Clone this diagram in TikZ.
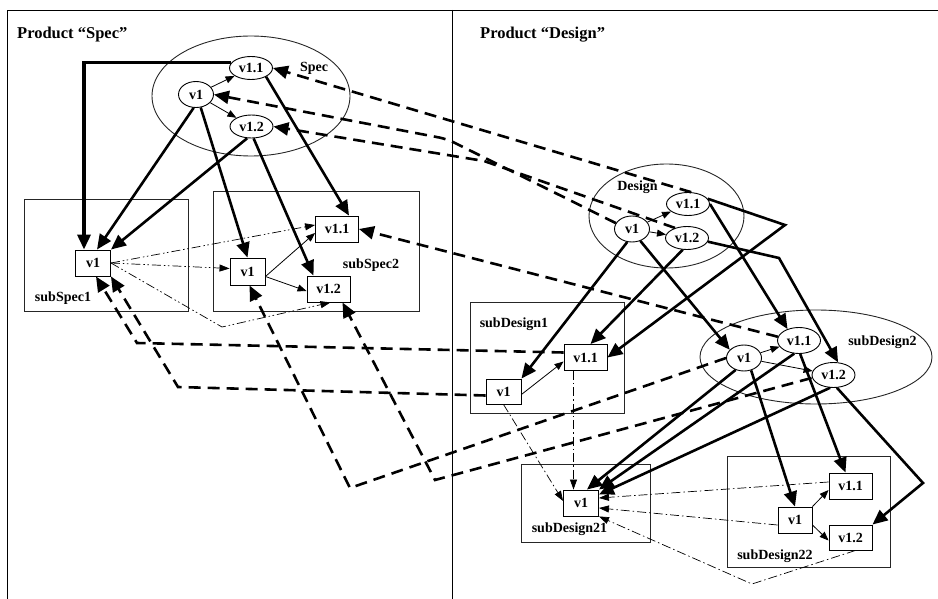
\documentclass[tikz,border=0pt]{standalone}
\usepackage{fontspec}
\setmainfont{Liberation Serif}
\usetikzlibrary{arrows.meta, shapes.geometric}

\begin{document}
\begin{tikzpicture}[x=1pt, y=-1pt,
    every node/.style={font=\bfseries\fontsize{14}{16}\selectfont},
    prodtitle/.style={font=\bfseries\fontsize{16.5}{18}\selectfont, anchor=west, inner sep=0pt},
    grp/.style={draw=black!85, line width=0.9pt, inner sep=0pt},
    verell/.style={draw, ellipse, line width=0.9pt, inner sep=0pt, minimum width=43pt, minimum height=23pt},
    verbox/.style={draw, line width=0.9pt, inner sep=0pt, minimum width=43pt, minimum height=26pt},
    succarrow/.style={line width=0.8pt, -{Triangle[length=9pt,width=7pt]}},
    deparrow/.style={line width=2.6pt, -{Triangle[length=15pt,width=13pt]}},
    tracearrow/.style={line width=2.6pt, dash pattern=on 12pt off 7pt, -{Triangle[length=15pt,width=13pt]}},
    copyl/.style={line width=0.7pt, dash pattern=on 9pt off 3pt on 1.5pt off 2.5pt on 1.5pt off 3pt, -{Triangle[length=10pt,width=7pt]}},
    copyr/.style={line width=0.7pt, dash pattern=on 9pt off 3pt on 1.5pt off 3pt, -{Triangle[length=10pt,width=7pt]}}]
  \useasboundingbox (0,0) rectangle (938,599);

  % Khung hai san pham
  \draw[line width=0.9pt] (7,599) |- (938,10);
  \draw[line width=0.9pt] (452,10) -- (452,599);
  \node[prodtitle] (tspec) at (17,35) {Product “Spec”};
  \node[prodtitle] (tdesign) at (480,35) {Product “Design”};

  % Cac nhom ben trai
  \node[grp, ellipse, minimum width=198pt, minimum height=120pt] (spec) at (251,96) {};
  \node (speclbl) at (314,68) {Spec};
  \node[grp, minimum width=164pt, minimum height=112pt] (subspec1) at (106,255) {};
  \node (subspec1lbl) at (63,298) {subSpec1};
  \node[grp, minimum width=206pt, minimum height=120pt] (subspec2) at (316,251) {};
  \node (subspec2lbl) at (371,265) {subSpec2};

  % Cac nhom ben phai
  \node[grp, ellipse, minimum width=155pt, minimum height=104pt] (design) at (666.5,216) {};
  \node (designlbl) at (637.5,187) {Design};
  \node[grp, minimum width=154pt, minimum height=111pt] (subdesign1) at (547,357.5) {};
  \node (subdesign1lbl) at (514,324) {subDesign1};
  \node[grp, ellipse, minimum width=232pt, minimum height=94pt] (subdesign2) at (816,357) {};
  \node (subdesign2lbl) at (882.5,342) {subDesign2};
  \node[grp, minimum width=129pt, minimum height=78pt] (subdesign21) at (585.5,503) {};
  \node (subdesign21lbl) at (569.5,529) {subDesign21};
  \node[grp, minimum width=163pt, minimum height=111pt] (subdesign22) at (808.5,511.5) {};
  \node (subdesign22lbl) at (775,556) {subDesign22};

  % Phien ban
  \node[verell, minimum width=35pt, minimum height=26pt] (sv1) at (196,94.5) {v1};
  \node[verell] (sv11) at (251,68) {v1.1};
  \node[verell] (sv12) at (251.5,126.5) {v1.2};
  \node[verbox, minimum width=35pt] (ss1v1) at (93,263) {v1};
  \node[verbox, minimum width=35pt, minimum height=27pt] (ss2v1) at (247.5,271.5) {v1};
  \node[verbox] (ss2v11) at (337,229) {v1.1};
  \node[verbox] (ss2v12) at (328.5,289) {v1.2};
  \node[verell, minimum width=35pt, minimum height=26pt] (dv1) at (632,229) {v1};
  \node[verell] (dv11) at (688,204) {v1.1};
  \node[verell] (dv12) at (687,238) {v1.2};
  \node[verbox, minimum width=35pt, minimum height=25pt] (sd1v1) at (503.5,391.5) {v1};
  \node[verbox] (sd1v11) at (585.5,357.5) {v1.1};
  \node[verell, minimum width=35pt, minimum height=26pt] (sd2v1) at (744,358) {v1};
  \node[verell, minimum height=26pt] (sd2v11) at (799,340.5) {v1.1};
  \node[verell, minimum height=25pt] (sd2v12) at (833.5,375) {v1.2};
  \node[verbox, minimum width=35pt] (sd21v1) at (581,503) {v1};
  \node[verbox, minimum width=34pt] (sd22v1) at (795,520) {v1};
  \node[verbox] (sd22v11) at (850.5,486) {v1.1};
  \node[verbox, minimum height=25pt] (sd22v12) at (850.5,537.5) {v1.2};

  % Diem gay
  \coordinate (bsv1) at (447,139);
  \coordinate (bsv12) at (484,161);
  \coordinate (bss1a) at (137,343);
  \coordinate (bss1b) at (178,387);
  \coordinate (bss2v1) at (350,488);
  \coordinate (bss2v12) at (435,480);
  \coordinate (bcopy) at (222,327);
  \coordinate (bdv11) at (785,225);
  \coordinate (bdv12) at (779,258);
  \coordinate (bsd2v12) at (923,483);
  \coordinate (bsd22) at (752,584);

  % Ke thua phien ban
  \draw[succarrow] (sv1) -- (sv11);
  \draw[succarrow] (sv1) -- (sv12);
  \draw[succarrow] ([yshift=-5pt]ss2v1.east) -- ([yshift=-4pt]ss2v11.west);
  \draw[succarrow] ([yshift=-5pt]ss2v1.east) -- ([yshift=-2pt]ss2v12.west);
  \draw[succarrow] (dv1) -- (dv11);
  \draw[succarrow] (dv1) -- (dv12);
  \draw[succarrow] ([yshift=-3pt]sd1v1.east) -- ([yshift=-4pt]sd1v11.west);
  \draw[succarrow] (sd2v1) -- (sd2v11);
  \draw[succarrow] (sd2v1) -- (sd2v12);
  \draw[succarrow] (sd22v1.north east) -- ([yshift=-4pt]sd22v11.west);
  \draw[succarrow] ([yshift=-5pt]sd22v1.east) -- ([yshift=-3pt]sd22v12.west);

  % Quan he thanh phan (trai)
  \draw[deparrow, line width=3.4pt] (sv11.165) -| ([xshift=-9pt]ss1v1.north);
  \draw[deparrow] (sv1.260) -- ([xshift=4pt]ss1v1.north);
  \draw[deparrow] (sv12.250) -- (ss1v1.north east);
  \draw[deparrow] (sv1.290) -- (ss2v1.north);
  \draw[deparrow] (sv12.280) -- ([xshift=-15pt]ss2v12.north);
  \draw[deparrow] (sv11.-30) -- ([xshift=12pt]ss2v11.north);

  % Quan he thanh phan (phai)
  \draw[deparrow] (dv1.250) -- (sd1v1.north east);
  \draw[deparrow] (dv12.250) -- ([xshift=5pt]sd1v11.north);
  \draw[deparrow] (dv11.15) -- (bdv11) -- (sd1v11.east);
  \draw[deparrow] (dv1.-55) -- (sd2v1.150);
  \draw[deparrow] (dv11.0) -- (sd2v11.135);
  \draw[deparrow] (dv12.-10) -- (bdv12) -- (sd2v12.70);
  \draw[deparrow] (sd2v1.235) -- ([xshift=6pt]sd21v1.north);
  \draw[deparrow] (sd2v11.250) -- (sd21v1.north east);
  \draw[deparrow] (sd2v12.255) -- ([yshift=-5pt]sd21v1.north east);
  \draw[deparrow] (sd2v1.-60) -- (sd22v1.north);
  \draw[deparrow] (sd2v11.-85) -- ([xshift=-5pt]sd22v11.north);
  \draw[deparrow] (sd2v12.-75) -- (bsd2v12) -- (sd22v12.north east);

  % Sao chep
  \draw[copyl] (ss1v1.east) -- ([yshift=4pt]ss2v11.west);
  \draw[copyl] (ss1v1.east) -- ([yshift=3pt]ss2v1.west);
  \draw[copyl] (ss1v1.east) -- (bcopy) -- ([xshift=2pt]ss2v12.south);
  \draw[copyr] (sd1v1.south) -- ([yshift=2pt]sd21v1.west);
  \draw[copyr] ([xshift=-12pt]sd1v11.south) -- ([xshift=-12pt]sd1v11.south |- sd21v1.north);
  \draw[copyr] ([yshift=4pt]sd22v11.west) -- ([yshift=5pt]sd21v1.east);
  \draw[copyr] ([yshift=-5pt]sd22v1.west) -- ([yshift=-5pt]sd21v1.east);
  \draw[copyr] ([xshift=5pt]sd22v12.south) -- (bsd22) -- (sd21v1.south east);

  % Lien ket giua hai san pham
  \draw[tracearrow] (dv11.75) -- (sv11.east);
  \draw[tracearrow, rounded corners=8pt] (dv1.160) -- (bsv1) -- (sv1.east);
  \draw[tracearrow] (dv12.140) -- (bsv12) -- (sv12.east);
  \draw[tracearrow] ([yshift=5pt]sd1v11.west) -- (bss1a) -- ([xshift=3pt]ss1v1.south);
  \draw[tracearrow] ([yshift=-4pt]sd1v1.west) -- (bss1b) -- (ss1v1.south east);
  \draw[tracearrow] (sd2v11.170) -- (ss2v11.east);
  \draw[tracearrow] (sd2v1.west) -- (bss2v1) -- ([xshift=2pt]ss2v1.south);
  \draw[tracearrow] ([yshift=-3pt]sd2v12.west) -- (bss2v12) -- ([xshift=14pt]ss2v12.south);
\end{tikzpicture}
\end{document}
